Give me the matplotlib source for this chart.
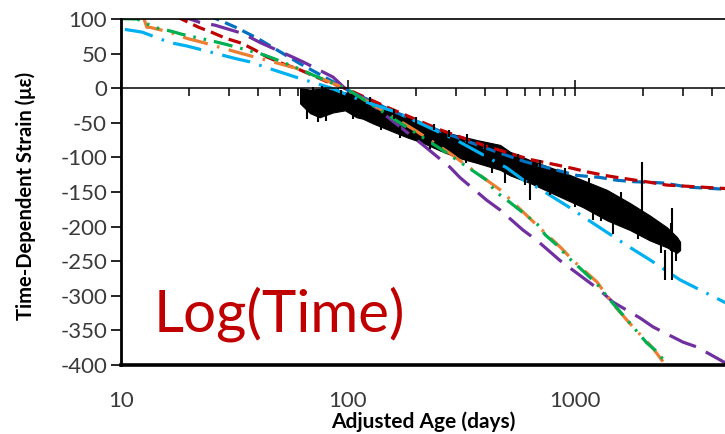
import numpy as np
import matplotlib
matplotlib.use("Agg")
import matplotlib.pyplot as plt
from matplotlib.ticker import LogLocator, NullFormatter, FixedLocator, FixedFormatter

plt.rcParams['font.family'] = ['Lato', 'DejaVu Sans']
plt.rcParams['axes.unicode_minus'] = False

# model curves (age in days, strain in microstrain)
blue_age = [20, 26, 32, 40, 61, 92, 100, 150, 254, 400, 600, 890, 1020, 1290, 1530, 1800, 2450, 3170, 4600]
blue_val = [115, 101, 88, 72, 36, 4, -3, -30, -62, -86, -106, -121, -126, -129, -133, -135, -137, -143, -146]

red_age = [16, 19, 22, 25, 29, 34, 39, 44, 52, 60, 66, 80, 97, 150, 254, 400, 634, 834, 980, 1135, 1350,
           1540, 1850, 2140, 2540, 4600]
red_val = [110, 98, 88, 81, 72, 65, 55, 45, 35, 28, 22, 10, 0, -28, -60, -83, -103, -111, -116, -121, -126,
           -129, -133, -136, -140, -145]

purple_age = [17, 19.7, 22.3, 26, 34.4, 41, 57, 63.4, 86, 99, 116, 214, 281, 311, 409, 468, 590, 680, 859,
              980, 1288, 1469, 1933, 2208, 2994, 3446, 4600]
purple_val = [110, 101, 95, 91, 79, 66, 45, 38, 16, -3, -13, -82, -114, -129, -162, -176, -205, -220, -249,
              -263, -292, -309, -332, -345, -367, -374, -397]

orange_age = [12.6, 13.0, 13.4, 16.4, 19.5, 23, 27.3, 35, 59, 83, 100, 200, 281, 409, 478, 533, 680, 870,
              980, 1250, 1470, 1745, 2208, 2414, 2600]
orange_val = [101, 88, 88, 81, 72, 66, 59, 49, 29, 9, -2, -62, -94, -133, -149, -165, -198, -231,
              -249, -280, -312, -340, -376, -393, -410]

green_age = [10, 11.8, 14, 16.8, 18.5, 25.4, 29.3, 41, 47, 63, 70, 100, 254, 409, 445, 517, 680, 740, 834,
             930, 1052, 1250, 1469, 1630, 2070, 2300, 2541, 2650]
green_val = [100.5, 100, 88, 82, 78, 68, 63, 50, 43, 26, 19, -2, -87, -133, -149, -165, -196, -212, -227,
             -244, -260, -283, -311, -328, -368, -381, -399, -410]

cyan_age = [10.4, 12.4, 16.4, 19.5, 23, 31.8, 37, 44.5, 61.5, 83, 113, 164, 300, 500, 600, 680, 922, 1200,
            1745, 2138, 2904, 4355, 4600]
cyan_val = [85, 81, 66, 61, 55, 43, 38, 29, 14, 1, -17, -35, -75, -115, -134, -143, -170, -195,
            -230, -248, -277, -306, -310]

# measured strain: band edges
meas_age = [61.5, 68, 75, 78, 86, 97, 109, 116, 129, 138, 153, 182, 214, 254, 302, 370, 468, 518, 634, 834,
            1085, 1384, 1747, 2138, 2541, 2812, 2904]
meas_hi = [0, -2, -1, 0, -3, -6, -10, -13, -18, -22, -32, -42, -51, -61, -68, -75, -82, -92, -104, -118,
           -133, -147, -166, -184, -201, -215, -222]
meas_lo = [-22, -36, -42, -40, -35, -32, -42, -44, -51, -55, -61, -71, -79, -90, -100, -108, -118, -126, -137, -155,
           -172, -191, -205, -220, -230, -238, -234]

# measured strain: spikes and noise beyond the band
spike_age = [66, 70, 74, 77, 80, 93, 105, 125, 140, 160, 170, 200, 230, 240, 280, 330, 335, 400, 430, 492,
             560, 600, 634, 700, 780, 900, 1000, 1150, 1200, 1300, 1469, 1600, 1900, 1972, 2296, 2400, 2489,
             2650, 2673, 2800]
spike_lo = [-44, -30, -49, -30, -48, -20, -45, -20, -60, -45, -72, -55, -88, -60, -70, -108, -80, -98, -122, -137,
            -110, -140, -162, -120, -155, -135, -172, -150, -191, -192, -210, -175, -218, -181, -224, -238, -277,
            -235, -277, -250]
spike_hi = [-20, 2, -30, 3, -30, -2, -30, -12, -40, -30, -55, -42, -70, -52, -60, -90, -66, -80, -110, -118,
            -95, -125, -137, -104, -140, -116, -155, -130, -172, -175, -181, -150, -200, -107, -198, -220, -234,
            -195, -173, -230]

x_major = [10, 100, 1000]
y_ticks = [100, 50, 0, -50, -100, -150, -200, -250, -300, -350, -400]

fig = plt.figure(figsize=(7.25, 4.34), dpi=100)
ax = fig.add_axes([121/725, 1-365/434, 604/725, 346/434])

ax.plot(blue_age, blue_val, color='#0070C0', lw=2.3, ls=(0, (4, 2)))
ax.plot(red_age, red_val, color='#C00000', lw=2.3, ls=(3, (4, 2)))
ax.plot(purple_age, purple_val, color='#7030A0', lw=2.3, ls=(0, (9, 3.5)))
ax.plot(orange_age, orange_val, color='#ED7D31', lw=2.3, ls=(0, (8, 3, 0.8, 3)))
ax.plot(green_age, green_val, color='#00B050', lw=2.3, ls=(0, (6, 2.5, 0.8, 2.5, 0.8, 2.5)))
ax.plot(cyan_age, cyan_val, color='#00B0F0', lw=2.3, ls=(0, (9, 3, 0.8, 3)))

ax.fill_between(meas_age, meas_lo, meas_hi, color='black', lw=0.8, edgecolor='black')
ax.vlines(spike_age, spike_lo, spike_hi, color='black', lw=1.5)

ax.set_xscale('log')
ax.set_xlim(10, 4580)
ax.set_ylim(-400, 100)

# horizontal axis crosses at zero, labels stay at the bottom
ax.spines['top'].set_position(('data', 0))
ax.spines['top'].set_linewidth(1.1)
ax.spines['right'].set_visible(False)
ax.spines['left'].set_linewidth(2)
ax.spines['bottom'].set_linewidth(2.6)
ax.axhline(100, color='black', lw=1.2, clip_on=False)

ax.xaxis.set_major_locator(FixedLocator(x_major))
ax.xaxis.set_major_formatter(FixedFormatter([str(v) for v in x_major]))
ax.xaxis.set_minor_locator(LogLocator(base=10, subs=np.arange(2, 10)))
ax.xaxis.set_minor_formatter(NullFormatter())
ax.tick_params(axis='x', which='both', bottom=False, top=True, labelbottom=True, labeltop=False,
               color='black', width=1.1)
ax.tick_params(axis='x', which='major', direction='inout', length=12, pad=13,
               labelsize=16, labelcolor='#3a3a3a')
ax.tick_params(axis='x', which='minor', direction='in', length=6)

ax.set_yticks(y_ticks)
ax.tick_params(axis='y', direction='out', length=7, width=1.2, pad=3, labelsize=16, labelcolor='#3a3a3a')

ax.set_xlabel('Adjusted Age (days)', fontsize=15, fontweight='bold')
ax.xaxis.set_label_coords(0.5, -0.133)
ax.set_ylabel('Time-Dependent Strain (με)', fontsize=14.5, fontweight='bold')
ax.yaxis.set_label_coords(-0.14, 0.49)

ax.text(13.9, -352, 'Log(Time)', color='#C00000', fontsize=42, va='baseline')

fig.savefig('out.png', dpi=100)
